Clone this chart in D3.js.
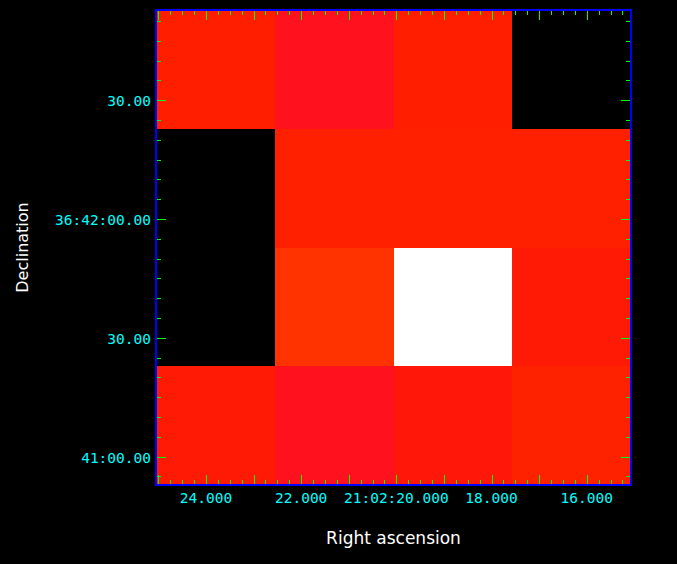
<!DOCTYPE html>
<html>
<head>
<meta charset="utf-8">
<script src="https://cdn.jsdelivr.net/npm/d3@7"></script>
<style>
  html, body { margin: 0; padding: 0; background: #000; }
  svg { display: block; }
</style>
</head>
<body>
<svg id="chart" width="677" height="564"></svg>
<script>
// ---- data ----
// RA: seconds past 21:02:00 (pixel edges, left to right, RA decreasing)
const raEdges = [25.05, 22.555, 20.06, 17.565, 15.07];
// Dec: arcsec past 36:41:00 (pixel edges, top to bottom)
const decEdges = [112.8, 82.8, 52.8, 22.8, -7.2];
// pixel intensities, rows top -> bottom, columns left -> right (0 = blank)
const values = [
  [0.559, 0.503, 0.559, 0.0],
  [0.0,   0.567, 0.567, 0.567],
  [0.0,   0.650, 1.000, 0.542],
  [0.540, 0.505, 0.535, 0.576]
];
// colour table
const cmapStops  = [0, 0.5, 0.55, 0.65, 1.0];
const cmapColors = ["#000000", "#ff1020", "#ff1c00", "#ff3300", "#ffffff"];
// tick positions and labels
const raMajorTicks = [16, 17, 18, 19, 20, 21, 22, 23, 24, 25];
const raLabelTicks = [24, 22, 20, 18, 16];
const raLabels = ["24.000", "22.000", "21:02:20.000", "18.000", "16.000"];
const decMajorTicks = [0, 30, 60, 90];
const decLabels = ["41:00.00", "30.00", "36:42:00.00", "30.00"];
const xTitle = "Right ascension";
const yTitle = "Declination";

// ---- layout ----
const pL = 156, pR = 631, pT = 10, pB = 485;
const svg = d3.select("#chart");
const x = d3.scaleLinear().domain([raEdges[0], raEdges[raEdges.length - 1]]).range([pL, pR]);
const y = d3.scaleLinear().domain([decEdges[0], decEdges[decEdges.length - 1]]).range([pT, pB]);
const color = d3.scaleLinear().domain(cmapStops).range(cmapColors).clamp(true);

svg.append("rect").attr("width", 677).attr("height", 564).attr("fill", "#000");

// cells
const cells = [];
values.forEach((row, r) => row.forEach((v, c) => cells.push({r, c, v})));
svg.append("g").selectAll("rect").data(cells).join("rect")
  .attr("x", d => x(raEdges[d.c]))
  .attr("y", d => y(decEdges[d.r]))
  .attr("width", d => x(raEdges[d.c + 1]) - x(raEdges[d.c]))
  .attr("height", d => y(decEdges[d.r + 1]) - y(decEdges[d.r]))
  .attr("fill", d => color(d.v))
  .attr("shape-rendering", "crispEdges");

// ticks (inward on all four sides)
const tickColor = "#00ff00";
const raMinor = d3.range(15.25, 25.01, 0.25).filter(t => t <= raEdges[0] && t >= raEdges[4]);
const decMinor = d3.range(-5, 111, 5);
const gT = svg.append("g").attr("stroke", tickColor).attr("stroke-width", 1.3).attr("shape-rendering", "crispEdges");
raMinor.forEach(t => {
  const major = raMajorTicks.some(m => Math.abs(m - t) < 1e-6);
  const len = major ? 10 : 5;
  const xx = Math.round(x(t)) + 0.5;
  gT.append("line").attr("x1", xx).attr("x2", xx).attr("y1", pB).attr("y2", pB - len);
  gT.append("line").attr("x1", xx).attr("x2", xx).attr("y1", pT).attr("y2", pT + len);
});
decMinor.forEach(t => {
  const major = decMajorTicks.some(m => Math.abs(m - t) < 1e-6);
  const len = major ? 10 : 5;
  const yy = Math.round(y(t)) + 0.5;
  gT.append("line").attr("y1", yy).attr("y2", yy).attr("x1", pL).attr("x2", pL + len);
  gT.append("line").attr("y1", yy).attr("y2", yy).attr("x1", pR).attr("x2", pR - len);
});

// frame
svg.append("rect")
  .attr("x", pL).attr("y", pT).attr("width", pR - pL).attr("height", pB - pT)
  .attr("fill", "none").attr("stroke", "#0000ff").attr("stroke-width", 2);

// tick labels
const labelFont = "'DejaVu Sans Mono', monospace";
svg.append("g").selectAll("text").data(raLabelTicks).join("text")
  .attr("x", d => x(d)).attr("y", 498)
  .attr("text-anchor", "middle").attr("dominant-baseline", "central")
  .attr("fill", "#00ffff").attr("font-family", labelFont).attr("font-size", 14.5)
  .text((d, i) => raLabels[i]);
svg.append("g").selectAll("text").data(decMajorTicks).join("text")
  .attr("x", 151).attr("y", d => y(d) + 1)
  .attr("text-anchor", "end").attr("dominant-baseline", "central")
  .attr("fill", "#00ffff").attr("font-family", labelFont).attr("font-size", 14.5)
  .text((d, i) => decLabels[i]);

// axis titles
svg.append("text").attr("x", (pL + pR) / 2).attr("y", 538)
  .attr("text-anchor", "middle").attr("dominant-baseline", "central")
  .attr("fill", "#ffffff").attr("font-family", "'DejaVu Sans', sans-serif").attr("font-size", 17)
  .text(xTitle);
svg.append("text")
  .attr("transform", `translate(22,${(pT + pB) / 2}) rotate(-90)`)
  .attr("text-anchor", "middle").attr("dominant-baseline", "central")
  .attr("fill", "#ffffff").attr("font-family", "'DejaVu Sans', sans-serif").attr("font-size", 16)
  .text(yTitle);
</script>
</body>
</html>
